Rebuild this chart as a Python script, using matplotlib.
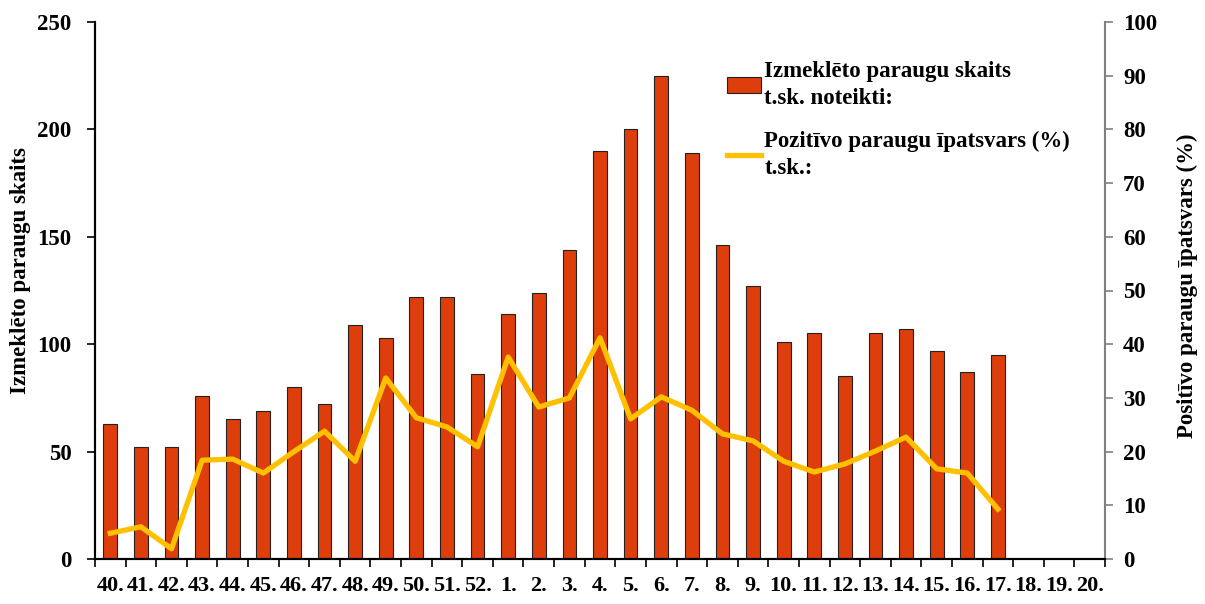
import matplotlib
matplotlib.use("Agg")
import matplotlib.pyplot as plt
import numpy as np

weeks = ["40.", "41.", "42.", "43.", "44.", "45.", "46.", "47.", "48.", "49.", "50.",
         "51.", "52.", "1.", "2.", "3.", "4.", "5.", "6.", "7.", "8.", "9.", "10.",
         "11.", "12.", "13.", "14.", "15.", "16.", "17.", "18.", "19.", "20."]
samples = [63, 52, 52, 76, 65, 69, 80, 72, 109, 103, 122, 122, 86, 114, 124, 144,
           190, 200, 225, 189, 146, 127, 101, 105, 85, 105, 107, 97, 87, 95]
positive_pct = [4.8, 6.0, 1.9, 18.4, 18.6, 16.0, 20.0, 23.8, 18.2, 33.7, 26.3, 24.6,
                20.9, 37.6, 28.3, 30.0, 41.2, 26.1, 30.2, 27.7, 23.3, 22.0, 18.2,
                16.2, 17.7, 20.1, 22.7, 16.8, 16.0, 9.3]

plt.rcParams['font.family'] = ['Liberation Serif', 'DejaVu Serif']
plt.rcParams['font.weight'] = 'bold'

fig = plt.figure(figsize=(12.05, 6.04), dpi=100)
ax = fig.add_axes([95/1205, 1-559/604, 1010/1205, 537/604])
ax2 = ax.twinx()

x = np.arange(len(weeks))
xs = x[:len(samples)]
ax.bar(xs, samples, width=0.45, color='#DD3E0C', edgecolor='#222222', linewidth=0.8,
       label='Izmeklēto paraugu skaits\nt.sk. noteikti:', zorder=2)
ax2.plot(xs, positive_pct, color='#FFC000', linewidth=3.8,
         label='Pozitīvo paraugu īpatsvars (%)\nt.sk.:', zorder=3)

ax.set_xlim(-0.5, len(weeks) - 0.5)
ax.set_ylim(0, 250)
ax2.set_ylim(0, 100)
ax.set_yticks(np.arange(0, 251, 50))
ax2.set_yticks(np.arange(0, 101, 10))
ax.set_xticks(x)
ax.set_xticklabels(weeks, fontsize=16, fontweight='bold')
ax.set_xticks(np.arange(-0.5, len(weeks), 1), minor=True)
ax.tick_params(axis='x', which='major', length=0, pad=12)
ax.tick_params(axis='x', which='minor', length=6, width=1.2, direction='out')
ax.tick_params(axis='y', labelsize=16.5, length=6, width=1.2, direction='out', pad=11)
ax2.tick_params(axis='y', labelsize=16.5, length=6, width=1.2, direction='out', pad=7,
                color='#808080')
for lab in ax.get_yticklabels() + ax2.get_yticklabels():
    lab.set_fontweight('bold')

for a in (ax, ax2):
    a.spines['top'].set_visible(False)
    for s in ('left', 'right', 'bottom'):
        a.spines[s].set_linewidth(1.5)
ax2.spines['right'].set_color('#808080')
ax.spines['right'].set_visible(False)

ax.set_ylabel('Izmeklēto paraugu skaits', fontsize=16.5, fontweight='bold')
ax.yaxis.set_label_coords(-0.063, 0.538)
ax2.set_ylabel('Positīvo paraugu īpatsvars (%)', fontsize=16.5, fontweight='bold')
ax2.yaxis.set_label_coords(1.071, 0.508)

h1, l1 = ax.get_legend_handles_labels()
h2, l2 = ax2.get_legend_handles_labels()
leg = ax2.legend(h1 + h2, l1 + l2, loc='upper left', bbox_to_anchor=(0.605, 0.965),
                 frameon=False, prop={'family': 'Liberation Serif', 'weight': 'bold', 'size': 16.5},
                 handlelength=1.5, handletextpad=0.15, labelspacing=0.95)
for t in leg.get_texts():
    t.set_linespacing(1.35)

fig.savefig('out.png', dpi=100)
